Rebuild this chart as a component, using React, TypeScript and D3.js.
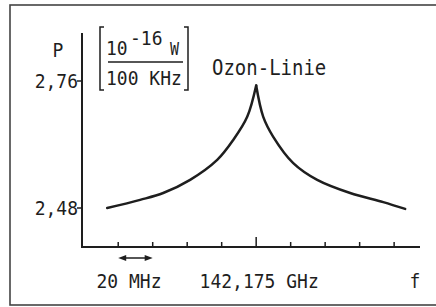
import React from "react";
import * as d3 from "d3";

// frequency offset from 142,175 GHz in MHz, power in 1e-16 W / 100 kHz
const leftFreq = [-86.4, -67.3, -53.9, -38.3, -22.6, -13.3, -5.2, 0];
const leftPower = [2.48, 2.498, 2.513, 2.542, 2.586, 2.63, 2.681, 2.75];
const rightFreq = [0, 4.1, 9.9, 21.5, 35.4, 54.5, 73.7, 86.4];
const rightPower = [2.75, 2.681, 2.637, 2.579, 2.542, 2.513, 2.493, 2.478];
const xTicks = [-80, -60, -40, -20, 0, 20, 40, 60, 80];
const yTicks = [2.48, 2.76];
const yTickLabels = ["2,48", "2,76"];

const W = 436;
const H = 307;
const FONT = "'DejaVu Sans Mono', monospace";
const INK = "#1e1e1e";

function T(props: { x: number; y: number; size?: number; anchor?: string; children: React.ReactNode }) {
  const { x, y, size = 18, anchor = "start", children } = props;
  return (
    <text
      transform={`translate(${x},${y}) scale(1,1.12)`}
      textAnchor={anchor}
      fontFamily={FONT}
      fontSize={size}
      fill={INK}
    >
      {children}
    </text>
  );
}

export default function App() {
  const x = d3.scaleLinear().domain([-101, 95]).range([82, 420]);
  const y = d3.scaleLinear().domain([2.48, 2.76]).range([208, 81]);
  const line = d3
    .line<[number, number]>()
    .x((d) => x(d[0]))
    .y((d) => y(d[1]))
    .curve(d3.curveCatmullRom.alpha(0.5));
  const left = leftFreq.map((f, i) => [f, leftPower[i]] as [number, number]);
  const right = rightFreq.map((f, i) => [f, rightPower[i]] as [number, number]);
  const axisY = 247;
  const axisX = 82;
  const arrowY = 258;
  const a0 = x(-80);
  const a1 = x(-60);
  return (
    <div style={{ position: "fixed", left: 0, top: 0 }}>
      <svg width={W} height={H} style={{ display: "block", background: "#fff" }}>
        <rect x={10} y={5} width={440} height={300} fill="none" stroke="#444" strokeWidth={1.6} />
        {/* axes */}
        <line x1={axisX} y1={33} x2={axisX} y2={axisY + 1} stroke={INK} strokeWidth={2} />
        <line x1={axisX - 1} y1={axisY} x2={420} y2={axisY} stroke={INK} strokeWidth={2} />
        {xTicks.map((t) => (
          <line key={t} x1={x(t)} x2={x(t)} y1={axisY} y2={t === 0 ? axisY - 10 : axisY - 5} stroke={INK} strokeWidth={1.5} />
        ))}
        {yTicks.map((t, i) => (
          <g key={t}>
            <line x1={axisX - 5} x2={axisX} y1={y(t)} y2={y(t)} stroke={INK} strokeWidth={1.5} />
            <T x={78} y={y(t) + 7} anchor="end">{yTickLabels[i]}</T>
          </g>
        ))}
        <T x={58} y={57} anchor="middle">P</T>
        {/* unit bracket */}
        <path d="M104,27 H100 V90 H104" fill="none" stroke={INK} strokeWidth={1.5} />
        <path d="M184,27 H188 V90 H184" fill="none" stroke={INK} strokeWidth={1.5} />
        <T x={106} y={55}>10</T>
        <T x={130} y={45}>-16</T>
        <T x={170} y={55} size={15}>W</T>
        <line x1={108} x2={183} y1={62} y2={62} stroke={INK} strokeWidth={1.5} />
        <T x={106} y={85}>100 KHz</T>
        <T x={212} y={75} size={19}>Ozon-Linie</T>
        {/* curve */}
        <path d={line(left) ?? ""} fill="none" stroke={INK} strokeWidth={2.5} strokeLinecap="round" />
        <path d={line(right) ?? ""} fill="none" stroke={INK} strokeWidth={2.5} strokeLinecap="round" />
        {/* 20 MHz arrow */}
        <line x1={a0 + 4} x2={a1 - 4} y1={arrowY} y2={arrowY} stroke={INK} strokeWidth={1.5} />
        <path d={`M${a0},${arrowY} L${a0 + 8},${arrowY - 3} L${a0 + 8},${arrowY + 3} Z`} fill={INK} />
        <path d={`M${a1},${arrowY} L${a1 - 8},${arrowY - 3} L${a1 - 8},${arrowY + 3} Z`} fill={INK} />
        <T x={129} y={288} anchor="middle">20 MHz</T>
        <T x={x(0) + 3} y={288} anchor="middle">142,175 GHz</T>
        <T x={415} y={288} anchor="middle">f</T>
      </svg>
    </div>
  );
}
